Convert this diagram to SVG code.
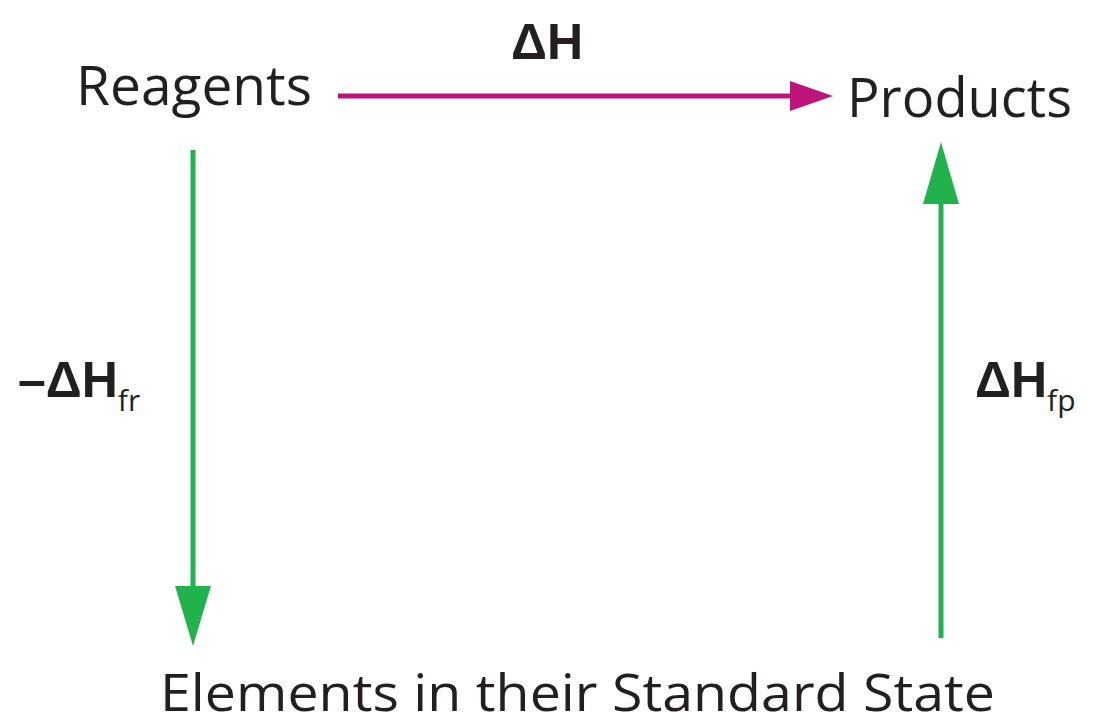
<svg xmlns="http://www.w3.org/2000/svg" width="1100" height="726" viewBox="0 0 1100 726">
<style>
.lbl{font-family:"Open Sans","Noto Sans","Liberation Sans",sans-serif;fill:#231f20;}
.sym{font-family:"Liberation Sans","Open Sans",sans-serif;font-weight:bold;fill:#231f20;}
.sub{font-family:"Open Sans","Liberation Sans",sans-serif;fill:#231f20;}
.mag{stroke:#be1378;stroke-width:5;fill:none;}
.grn{stroke:#22b24c;stroke-width:5;fill:none;}
.magh{fill:#be1378;}
.grnh{fill:#22b24c;}
</style>
<rect width="1100" height="726" fill="#ffffff"/>
<g id="connectors">
<line class="mag" x1="338" y1="96" x2="795" y2="96"/>
<polygon class="magh" points="790,81 833,96 790,111"/>
<line class="grn" x1="193" y1="150" x2="193" y2="590"/>
<polygon class="grnh" points="175,586 211,586 193,646"/>
<line class="grn" x1="941" y1="638" x2="941" y2="200"/>
<polygon class="grnh" points="923,204 959,204 941,142"/>
</g>
<g id="reagents"><text class="lbl" x="76" y="105" font-size="54" textLength="236" lengthAdjust="spacingAndGlyphs">Reagents</text></g>
<g id="products"><text class="lbl" x="847" y="117" font-size="54" textLength="225" lengthAdjust="spacingAndGlyphs">Products</text></g>
<g id="elements"><text class="lbl" x="160" y="711" font-size="52" textLength="835" lengthAdjust="spacingAndGlyphs">Elements in their Standard State</text></g>
<g id="dH"><text class="sym" x="511" y="59" font-size="50">ΔH</text></g>
<g id="dHfr"><text class="sym" x="18" y="397" font-size="50">–ΔH<tspan class="sub" font-weight="normal" font-size="30" dy="14">fr</tspan></text></g>
<g id="dHfp"><text class="sym" x="975" y="397" font-size="50">ΔH<tspan class="sub" font-weight="normal" font-size="30" dy="14">fp</tspan></text></g>
</svg>
